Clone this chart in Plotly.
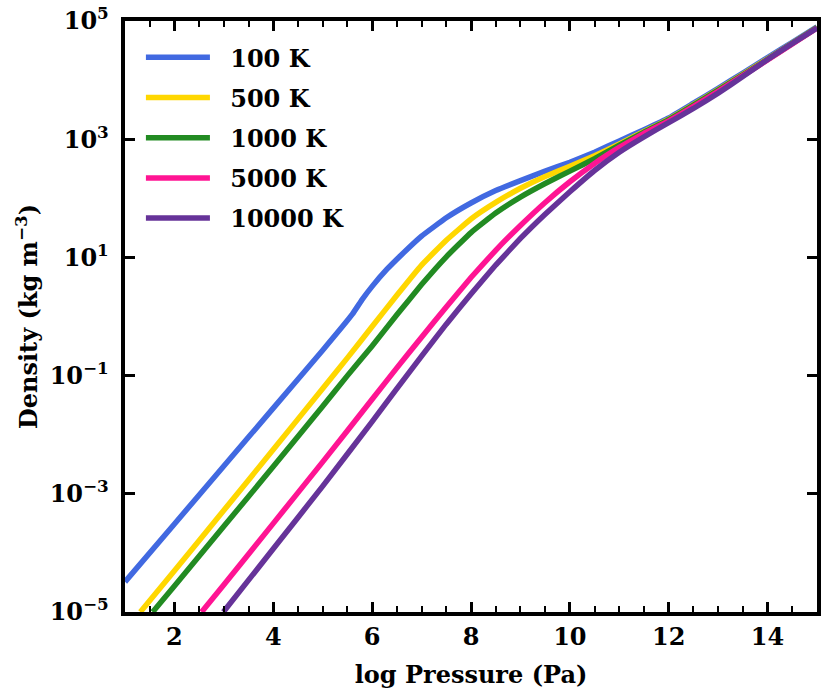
import numpy as np
import plotly.graph_objects as go

# ---- data (log10 pressure [Pa] vs log10 density [kg m^-3]) ----
labels = ["100 K", "500 K", "1000 K", "5000 K", "10000 K"]
colors = ["#4169E1", "#FFD700", "#228B22", "#FF1493", "#663399"]

x_100 = [1.0, 2.0, 3.0, 4.0, 5.0, 5.6, 5.8, 6.0, 6.3, 6.6, 7.0, 7.5, 8.0, 8.5, 9.0, 9.5,
         10.0, 10.5, 11.0, 11.5, 12.0, 12.5, 13.0, 13.5, 14.0, 14.5, 15.0]
logrho_100 = [-4.49, -3.51, -2.53, -1.55, -0.57, 0.04, 0.29, 0.51, 0.80, 1.05, 1.36, 1.67,
              1.92, 2.13, 2.30, 2.46, 2.61, 2.78, 2.97, 3.16, 3.36, 3.61, 3.86, 4.12, 4.38, 4.64, 4.90]

x_500 = [1.31, 2.0, 3.0, 4.0, 5.0, 5.5, 6.0, 6.5, 7.0, 7.5, 8.0, 8.5, 9.0, 9.5, 10.0,
         10.5, 11.0, 11.5, 12.0, 13.0, 14.0, 15.0]
logrho_500 = [-5.0, -4.30, -3.28, -2.25, -1.22, -0.70, -0.17, 0.36, 0.87, 1.29, 1.65, 1.93,
              2.17, 2.37, 2.54, 2.72, 2.92, 3.13, 3.34, 3.84, 4.36, 4.89]

x_1000 = [1.56, 2.0, 3.0, 4.0, 5.0, 5.5, 6.0, 6.5, 7.0, 7.5, 8.0, 8.5, 9.0, 9.5, 10.0,
          10.5, 11.0, 11.5, 12.0, 13.0, 14.0, 15.0]
logrho_1000 = [-5.0, -4.56, -3.55, -2.54, -1.52, -1.00, -0.50, 0.03, 0.54, 1.01, 1.42, 1.75,
               2.02, 2.25, 2.46, 2.67, 2.90, 3.12, 3.33, 3.83, 4.35, 4.89]

x_5000 = [2.55, 3.0, 4.0, 5.0, 6.0, 6.5, 7.0, 7.5, 8.0, 8.5, 9.0, 9.5, 10.0, 10.5, 11.0,
          11.5, 12.0, 13.0, 14.0, 15.0]
logrho_5000 = [-5.0, -4.54, -3.50, -2.46, -1.40, -0.87, -0.35, 0.16, 0.66, 1.12, 1.54, 1.93,
               2.28, 2.59, 2.86, 3.10, 3.31, 3.81, 4.34, 4.88]

x_10000 = [2.99, 4.0, 5.0, 6.0, 6.5, 7.0, 7.5, 8.0, 8.5, 9.0, 9.5, 10.0, 10.5, 11.0, 11.5,
           12.0, 12.5, 13.0, 13.5, 14.0, 14.5, 15.0]
logrho_10000 = [-5.0, -3.93, -2.87, -1.78, -1.22, -0.67, -0.13, 0.38, 0.87, 1.32, 1.73, 2.11,
                2.47, 2.78, 3.04, 3.28, 3.52, 3.78, 4.06, 4.35, 4.62, 4.88]

xs = [x_100, x_500, x_1000, x_5000, x_10000]
ys = [logrho_100, logrho_500, logrho_1000, logrho_5000, logrho_10000]

y_tick_exp = [-5, -3, -1, 1, 3, 5]
x_tick_vals = [2, 4, 6, 8, 10, 12, 14]

FONT = "DejaVu Serif"
NBSP = "\u00a0"

fig = go.Figure()
for i, (lab, col, xv, yv) in enumerate(zip(labels, colors, xs, ys)):
    fig.add_trace(go.Scatter(
        x=xv, y=[10.0 ** v for v in yv], mode="lines",
        name=f"{NBSP * 2}<b>{lab}</b>",
        legendgroup=f"g{i}",
        line=dict(color=col, width=5.5, shape="spline", smoothing=0.3),
    ))

axis_common = dict(
    showline=True, linecolor="black", linewidth=3.5, mirror="ticks",
    ticks="inside", tickcolor="black", tickwidth=3, ticklen=10,
    showgrid=False, zeroline=False, automargin=False,
    tickfont=dict(family=FONT, size=24, color="black"),
)

fig.update_xaxes(
    range=[1, 15], tickvals=x_tick_vals,
    ticktext=[f"<b>{v}</b>" for v in x_tick_vals],
    minor=dict(dtick=0.5, tick0=0, ticks="inside", ticklen=6, tickwidth=2, tickcolor="black"),
    title=dict(text="<b>log Pressure (Pa)</b>", font=dict(family=FONT, size=24, color="black"), standoff=18),
    **axis_common,
)
fig.update_yaxes(
    type="log", range=[-5, 5],
    tickvals=[10.0 ** e for e in y_tick_exp],
    ticktext=[f"<b>10<sup>{'−' + str(-e) if e < 0 else e}</sup></b>{NBSP}" for e in y_tick_exp],
    title=dict(text="<b>Density (kg m<sup>−3</sup>)</b>", font=dict(family=FONT, size=24, color="black"), standoff=6),
    **axis_common,
)

fig.update_layout(
    width=831, height=700,
    margin=dict(l=125, r=14, t=21, b=88),
    paper_bgcolor="white", plot_bgcolor="white",
    font=dict(family=FONT, size=24, color="black"),
    legend=dict(
        x=0.023, y=0.976, xanchor="left", yanchor="top",
        bgcolor="rgba(0,0,0,0)", borderwidth=0,
        font=dict(family=FONT, size=24, color="black"),
        traceorder="grouped", tracegroupgap=6, itemwidth=64,
    ),
)

fig.write_html("out.html", config={"displayModeBar": False},
               post_script="document.body.style.margin='0px';")
